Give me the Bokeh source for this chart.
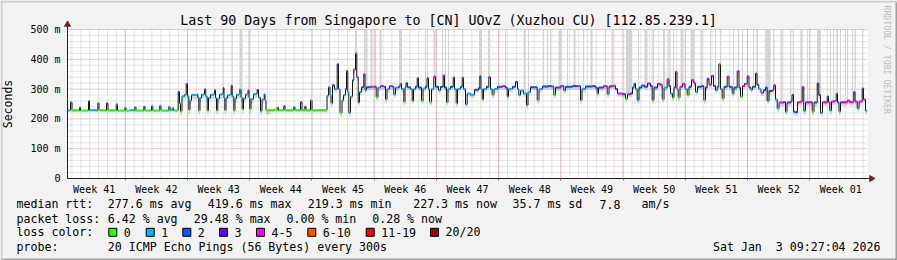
import numpy as np
from bokeh.plotting import figure
from bokeh.models import Range1d, FixedTicker, ColumnDataSource
from bokeh.core.properties import value
from bokeh.embed import file_html
from bokeh.resources import INLINE

# ---------------------------------------------------------------- data
STEP_HOURS = 2.7      # one consolidated RRA row (9720 s) = one pixel column
N_DAYS = 90
Y_MAX = 500

week_labels = ["Week 41", "Week 42", "Week 43", "Week 44", "Week 45", "Week 46",
               "Week 47", "Week 48", "Week 49", "Week 50", "Week 51", "Week 52",
               "Week 01"]
week_centers = [3, 10, 17, 24, 31, 38, 45, 52, 59, 66, 73, 80, 87]
week_bounds = [6.5, 13.5, 20.5, 27.5, 34.5, 41.5, 48.5, 55.5, 62.5, 69.5, 76.5, 83.5]
day_lines = [d + 0.5 for d in range(N_DAYS)]

y_ticks = [0, 100, 200, 300, 400, 500]
y_tick_labels = ["0", "100 m", "200 m", "300 m", "400 m", "500 m"]
y_minor = [v for v in range(20, 500, 20) if v % 100]

# median rtt (ms): RRA row index, value, loss bucket (index into loss colours)
a_step = [0, 2, 3, 4.5, 11, 12, 13, 20, 21, 22, 29, 30.3, 31.5, 38, 39, 40.5, 47.5, 48.7, 50,
          56.5, 57.3, 58.5, 63, 66.3, 67.3, 68.5, 75.3, 76.3, 77.5, 83, 84, 85.3, 91.3, 92.3,
          93.5, 100, 101.3, 102.5, 104.7, 106, 109.7]
a_rtt = [228, 229, 255, 229, 228, 238, 228, 228, 259, 229, 228, 253, 229, 228, 252, 229, 228, 249,
         228, 228, 237, 228, 229, 228, 240, 228, 228, 241, 228, 228, 243, 228, 228, 244, 228, 228,
         241, 229, 236, 228, 229]
a_loss = [1, 0, 2, 0, 0, 1, 0, 0, 2, 1, 1, 1, 0, 0, 2, 0, 0, 1, 0, 0, 1, 0, 1, 0, 1, 0, 1, 2, 0,
          0, 1, 0, 1, 1, 0, 0, 1, 1, 1, 0, 0]

b_step = [110.7, 112, 113, 114.5, 117, 118.7, 120, 121.3, 122.5, 124, 129.5, 130.3, 131.3, 132.5,
          134, 136, 137, 138.3, 139.7, 141, 143, 146, 147, 148, 149, 150.3, 152, 154.5, 155.7,
          156.5, 157.3, 158.5, 160, 162.5, 163.7, 164.7, 166.3, 167.5, 169, 171.5, 172.3, 173.5,
          174.7, 176, 178, 180.5, 181.5, 182.3, 183.5, 186, 188.7, 189.7, 191, 193, 194.5, 196.7,
          197.5, 198.5]
b_rtt = [291, 252, 225, 276, 281, 318, 276, 230, 262, 280, 283, 272, 228, 270, 281, 283, 299, 275,
         228, 270, 281, 283, 296, 270, 228, 268, 282, 284, 304, 270, 229, 270, 280, 282, 311, 275,
         228, 268, 281, 284, 299, 272, 232, 268, 282, 296, 270, 233, 266, 283, 285, 297, 272, 226,
         265, 283, 262, 229]
b_loss = [2, 0, 0, 1, 1, 4, 1, 0, 1, 1, 1, 1, 0, 1, 1, 1, 2, 1, 0, 1, 1, 1, 2, 1, 0, 1, 1, 1, 2,
          1, 0, 1, 1, 1, 2, 1, 0, 1, 1, 1, 1, 1, 0, 1, 1, 4, 1, 0, 1, 1, 1, 3, 1, 1, 1, 1, 1, 0]

f_step = [203, 206, 209.7, 211, 216.3, 217.5, 226.3, 227.5, 233, 234.5, 237.3, 238.5, 243, 244.5,
          251, 254, 258]
f_rtt = [229, 231, 238, 229, 243, 229, 240, 229, 256, 230, 241, 229, 262, 229, 230, 229, 230]
f_loss = [0, 0, 1, 0, 2, 0, 1, 0, 2, 0, 2, 0, 1, 0, 0, 0, 0]

c1_step = [259.5, 261, 262.5, 263.5, 265, 267, 269.7, 271, 272.5, 274.5, 276, 278, 279, 280.3,
           281.3, 283, 285, 286.3, 288, 289.3, 290.7, 292, 294, 296.3, 297.5, 299, 303, 307,
           308.7, 310.5, 313, 316.5, 318, 319.5, 322, 325, 326.3, 328, 331, 332.5, 334, 336.3,
           337.5, 338.5, 340, 343, 344.7, 346, 348, 349.7, 351, 354, 355.5, 358, 359.5, 361, 362,
           364, 366.3, 368, 371, 373, 375.7, 377, 379, 380.5, 383, 385.7, 387, 388.7, 390, 393,
           394.7, 396, 398]
c1_rtt = [278, 307, 280, 252, 313, 300, 383, 300, 220, 262, 280, 300, 360, 290, 221, 275, 330, 366,
          420, 340, 255, 290, 306, 350, 296, 306, 308, 308, 273, 305, 310, 308, 265, 300, 310, 308,
          282, 305, 308, 318, 300, 257, 305, 320, 306, 300, 260, 300, 308, 337, 305, 260, 302, 308,
          336, 300, 257, 300, 342, 308, 296, 308, 346, 305, 255, 300, 308, 339, 300, 252, 300, 308,
          339, 300, 249]
c1_loss = [1, 1, 1, 0, 2, 1, 3, 1, 0, 1, 1, 2, 2, 1, 1, 1, 2, 4, 5, 4, 1, 1, 2, 4, 1, 2, 4, 2, 0,
           1, 4, 2, 0, 1, 4, 2, 1, 1, 2, 4, 1, 0, 2, 2, 2, 1, 0, 1, 2, 4, 2, 0, 1, 2, 2, 1, 0, 1,
           4, 2, 1, 2, 4, 2, 0, 1, 2, 4, 1, 0, 1, 2, 5, 1, 1]

c2_step = [399.7, 403, 407, 411, 412.3, 413.5, 414.7, 416, 419, 421.3, 423, 424.7, 426.5, 430, 435,
           438, 439.7, 441, 445, 448, 450, 451.3, 453, 456, 459, 460.5, 463, 467, 469.7, 471.5,
           475, 481, 484, 486.3, 488, 493, 496.3, 498, 505, 510, 513, 514.5, 518, 525, 528, 529.7,
           531, 536, 539.7, 541.5, 544]
c2_rtt = [285, 281, 298, 303, 343, 300, 265, 300, 308, 340, 300, 280, 300, 308, 310, 305, 274, 300,
          308, 324, 300, 280, 295, 285, 246, 290, 306, 306, 263, 300, 309, 310, 309, 280, 305, 310,
          295, 308, 310, 310, 262, 300, 309, 310, 305, 284, 305, 310, 283, 309, 311]
c2_loss = [1, 1, 2, 2, 2, 1, 0, 1, 2, 4, 1, 0, 1, 2, 4, 2, 0, 1, 2, 2, 1, 1, 1, 1, 1, 1, 2, 2, 0,
           1, 2, 2, 4, 0, 2, 4, 1, 2, 2, 4, 0, 1, 2, 2, 2, 0, 2, 4, 1, 2, 4]

c3_step = [548, 550, 555, 558, 560, 563, 565, 566.5, 568, 569.7, 571.5, 574, 577, 580, 583, 584.7,
           586.5, 590, 593, 594.7, 596.5, 599.7, 601.5, 603, 605, 606.5, 608, 609.5, 610.7, 612.5,
           615, 617.5, 619.7, 621.5, 624, 626.3, 628, 630, 634, 636.3, 638, 639.7, 641.5, 644, 646,
           648, 649.7, 651.3, 653, 654.7, 656.5, 659.7, 661.5, 664.7, 666.5, 669.7, 671.5, 673,
           675, 677, 679.7, 681.5, 683.5, 685, 688, 689.5, 691.3, 693.5, 696, 698, 699.7, 701.5,
           705, 706.3, 708]
c3_rtt = [300, 285, 283, 268, 283, 285, 305, 318, 300, 263, 305, 312, 308, 319, 310, 262, 305, 318,
          315, 265, 305, 333, 310, 285, 271, 305, 358, 300, 272, 308, 318, 300, 280, 308, 330, 320,
          290, 308, 310, 263, 305, 335, 315, 345, 310, 296, 308, 383, 300, 268, 308, 342, 308, 285,
          305, 360, 305, 275, 310, 318, 343, 305, 298, 308, 352, 315, 300, 288, 296, 305, 260, 294,
          297, 313, 265]
c3_loss = [2, 4, 2, 0, 4, 2, 2, 2, 1, 1, 2, 2, 2, 4, 2, 0, 2, 4, 4, 0, 1, 4, 2, 1, 0, 2, 5, 1, 0,
           4, 4, 1, 0, 2, 4, 4, 1, 2, 2, 0, 2, 2, 4, 4, 2, 1, 2, 5, 1, 0, 2, 4, 2, 1, 2, 4, 2, 0,
           4, 4, 4, 2, 1, 2, 2, 2, 1, 4, 2, 2, 1, 2, 4, 4, 1]

d_step = [709.7, 711.5, 716, 718, 719.5, 723, 724.5, 726, 728, 730, 733, 734.7, 736.3, 738, 743,
          744.7, 746.5, 749.7, 751.3, 753, 755, 759.7, 761, 762.3, 764, 767, 768.7, 770, 771.5,
          773, 778, 780, 782, 786.3, 787.5, 789.7, 791.5, 794.7, 796, 798]
d_rtt = [235, 255, 257, 224, 255, 258, 280, 224, 222, 256, 258, 307, 227, 256, 257, 224, 255, 319,
         280, 220, 256, 275, 256, 228, 258, 260, 285, 255, 225, 256, 257, 262, 257, 290, 258, 235,
         258, 302, 265, 227]
d_loss = [1, 4, 4, 1, 2, 4, 2, 2, 2, 4, 4, 4, 1, 4, 4, 0, 2, 2, 2, 1, 4, 2, 4, 1, 4, 4, 5, 2, 1,
          4, 4, 4, 4, 2, 4, 1, 4, 2, 4, 1]

# tall light smoke columns (single very slow pings): row index, width in rows
bar_step = [155.7, 164.7, 173.5, 181.3, 262, 288.5, 297, 299, 304, 308, 313, 333, 358, 360, 367,
            375, 378, 381, 395, 413, 421.5, 438, 457, 461, 476, 480, 483, 492.5, 500, 507, 516,
            524, 538, 545, 561.5, 571, 578.5, 584.7, 586, 596.5, 602, 606, 614.5, 625, 634, 643,
            648, 653, 666, 671, 675, 686, 690, 700.5, 706, 714, 723, 726, 734, 740, 751.5, 763,
            766, 770, 773, 778, 780, 785, 788, 795]
bar_w = [1, 1, 3, 1, 1, 2, 1, 2, 2, 1, 2, 3, 1, 1, 2, 1, 1, 1, 1, 3, 2, 1, 2, 1, 1, 1, 1, 3, 1, 2,
         1, 2, 1, 2, 6, 1, 3, 1, 1, 2, 2, 1, 3, 4, 2, 1, 1, 1, 1, 1, 1, 1, 1, 5, 1, 2, 1, 1, 2, 1,
         4, 1, 1, 1, 1, 1, 1, 1, 1, 1]

loss_labels = ["0", "1", "2", "3", "4-5", "6-10", "11-19", "20/20"]
loss_colors = ["#26ff00", "#00b8ff", "#0059ff", "#5e00ff", "#ff00ff", "#ff5500", "#ff0000", "#a00000"]

title_text = "Last 90 Days from Singapore to [CN] UOvZ (Xuzhou CU) [112.85.239.1]"
rtt_stats = ["277.6 ms avg", "419.6 ms max", "219.3 ms min", "227.3 ms now", "35.7 ms sd", "7.8", "am/s"]
loss_stats = ["6.42 % avg", "29.48 % max", "0.00 % min", "0.28 % now"]
probe_text = "20 ICMP Echo Pings (56 Bytes) every 300s"
date_text = "Sat Jan \u00a03 09:27:04 2026"
watermark = "RRDTOOL / TOBI OETIKER"

# ---------------------------------------------------------------- build series
steps = np.array(a_step + b_step + f_step + c1_step + c2_step + c3_step + d_step, dtype=float)
rtt = np.array(a_rtt + b_rtt + f_rtt + c1_rtt + c2_rtt + c3_rtt + d_rtt, dtype=float)
loss = np.array(a_loss + b_loss + f_loss + c1_loss + c2_loss + c3_loss + d_loss, dtype=int)

to_days = STEP_HOURS / 24.0
t = steps * to_days
t_next = np.append(t[1:], t[-1] + 1.5 * to_days)

# smoke depth by period (styling of the ping-spread shading)
depth = np.select([steps < 110, steps < 199, steps < 259, steps < 709], [3, 14, 3, 11], 13)

bar_t = np.array(bar_step) * to_days
bar_width = np.array(bar_w) * to_days
idx = np.searchsorted(t, bar_t, side="right") - 1
bar_bottom = rtt[np.clip(idx, 0, len(rtt) - 1)]

# ---------------------------------------------------------------- page geometry
W, H = 897, 260
FRAME_L, FRAME_T, FRAME_W, FRAME_H = 67, 29, 800, 149   # graph area inside the image
FONT = "DejaVu Sans Mono"


def px2x(px):
    return (np.asarray(px, dtype=float) - FRAME_L) * N_DAYS / FRAME_W


def py2y(py):
    return (FRAME_T + FRAME_H - np.asarray(py, dtype=float)) * Y_MAX / FRAME_H


p = figure(width=W, height=H,
           x_range=Range1d(float(px2x(0)), float(px2x(W))),
           y_range=Range1d(float(py2y(H)), float(py2y(0))),
           output_backend="svg", toolbar_location=None,
           min_border_left=0, min_border_right=0, min_border_top=0, min_border_bottom=0,
           border_fill_color="#f2f2f2", background_fill_color="#f2f2f2",
           outline_line_color=None)
p.title.visible = False
p.xgrid.visible = False
p.ygrid.visible = False

# canvas of the graph
p.quad(left=[0], right=[N_DAYS], bottom=[0], top=[Y_MAX], fill_color="#ffffff", line_color=None)

# grid (dotted, rrdtool style)
p.segment(x0=day_lines, y0=0, x1=day_lines, y1=Y_MAX, line_color="#8f8f8f",
          line_alpha=0.45, line_dash="1 1", line_width=1)
p.segment(x0=0, y0=y_minor, x1=N_DAYS, y1=y_minor, line_color="#8f8f8f",
          line_alpha=0.45, line_dash="1 1", line_width=1)
p.segment(x0=week_bounds, y0=0, x1=week_bounds, y1=Y_MAX, line_color="#de4f4f",
          line_alpha=0.6, line_dash="1 1", line_width=1)
p.segment(x0=0, y0=y_ticks[1:], x1=N_DAYS, y1=y_ticks[1:], line_color="#de4f4f",
          line_alpha=0.6, line_dash="1 1", line_width=1)

# tall smoke columns
p.vbar(x=bar_t, width=bar_width, bottom=bar_bottom, top=Y_MAX,
       fill_color="#d4d4d4", line_color=None)

# smoke around the median
p.quad(left=t, right=t_next, bottom=rtt - depth, top=rtt + 2,
       fill_color="#808080", fill_alpha=0.3, line_color=None)

# median: black transitions + loss coloured level segments
p.step(x=t, y=rtt, mode="after", line_color="#141414", line_width=1)
seg_src = ColumnDataSource(dict(x0=t, x1=t_next, y=rtt,
                                c=[loss_colors[i] for i in loss]))
p.segment(x0="x0", y0="y", x1="x1", y1="y", line_color="c", line_width=2, source=seg_src)

# axes (library axes pinned to the graph origin)
ya = p.yaxis[0]
ya.fixed_location = 0
ya.bounds = (0, Y_MAX)
ya.ticker = FixedTicker(ticks=y_ticks, minor_ticks=[])
ya.major_label_overrides = dict(zip(y_ticks, y_tick_labels))
ya.major_tick_line_color = None
ya.minor_tick_line_color = None
ya.major_tick_out = 0
ya.major_tick_in = 0
ya.major_label_standoff = 7
ya.axis_line_color = "#1f1f1f"
ya.major_label_text_font = FONT
ya.major_label_text_font_size = "10px"
ya.major_label_text_color = "#000000"
ya.axis_label = "Seconds"
ya.axis_label_text_font = FONT
ya.axis_label_text_font_size = "11.5px"
ya.axis_label_text_font_style = "normal"
ya.axis_label_text_color = "#000000"
ya.axis_label_standoff = 12

xa = p.xaxis[0]
xa.fixed_location = 0
xa.bounds = (0, N_DAYS)
xa.ticker = FixedTicker(ticks=week_centers, minor_ticks=week_bounds)
xa.major_label_overrides = dict(zip(week_centers, week_labels))
xa.major_tick_line_color = None
xa.major_tick_out = 0
xa.major_tick_in = 0
xa.minor_tick_line_color = "#de4f4f"
xa.minor_tick_out = 2
xa.minor_tick_in = 0
xa.major_label_standoff = 3
xa.axis_line_color = "#1f1f1f"
xa.major_label_text_font = FONT
xa.major_label_text_font_size = "10px"
xa.major_label_text_color = "#000000"

# axis extensions with rrdtool arrow heads
ARROW = "#801f1f"
p.segment(x0=[0, N_DAYS], y0=[Y_MAX, 0], x1=[0, float(px2x(871))], y1=[float(py2y(23)), 0],
          line_color="#1f1f1f", line_width=1)
p.scatter(x=[0], y=[float(py2y(24))], marker="triangle", size=6,
          fill_color=ARROW, line_color=ARROW)
p.scatter(x=[float(px2x(871))], y=[0], marker="triangle", size=6, angle=-np.pi / 2,
          fill_color=ARROW, line_color=ARROW)


def add_text(xs, ys, texts, size="11.6px", align="left", color="#000000", angle=0.0):
    p.text(x=px2x(xs), y=py2y(ys), text=texts, text_font=value(FONT),
           text_font_size=value(size), text_align=align, text_baseline="middle",
           text_color=color, angle=angle)


# title and watermark
add_text([448], [19.5], [title_text], size="13.3px", align="center")
add_text([886], [5], [watermark], size="8.2px", color="#bdbdbd", angle=-np.pi / 2)

# legend rows
ROW1, ROW2, ROW3, ROW4 = 203.5, 218.3, 231.8, 246.7
add_text([16], [ROW1], ["median rtt:"])
rtt_x = [107.3, 207.3, 307.3, 412.7, 512, 599, 641]
add_text(rtt_x, [ROW1] * len(rtt_x), rtt_stats)
add_text([16], [ROW2], ["packet loss:"])
loss_x = [107.3, 193.3, 286, 371.7]
add_text(loss_x, [ROW2] * len(loss_x), loss_stats)
add_text([16], [ROW3], ["loss color:"])
box_x = np.array([108.3, 145.7, 182.3, 219, 256, 307.3, 365.7, 430])
p.quad(left=px2x(box_x), right=px2x(box_x + 8), top=float(py2y(227.8)), bottom=float(py2y(235.8)),
       fill_color=loss_colors, line_color="#000000", line_width=1)
add_text(box_x + 15, [ROW3] * len(box_x), loss_labels)
add_text([16], [ROW4], ["probe:"])
add_text([107.3], [ROW4], [probe_text])
add_text([880], [ROW4], [date_text], align="right")

# 3d frame of the image
fl, fr, ft, fb = [0, 0, 2, 895], [W, 2, W, W], [0, 0, 258, 2], [2, H, H, H]
p.quad(left=px2x(fl), right=px2x(fr), top=py2y(ft), bottom=py2y(fb),
       fill_color=["#cfcfcf", "#cfcfcf", "#9e9e9e", "#9e9e9e"], line_color=None)

open("out.html", "w").write(file_html(p, INLINE))
